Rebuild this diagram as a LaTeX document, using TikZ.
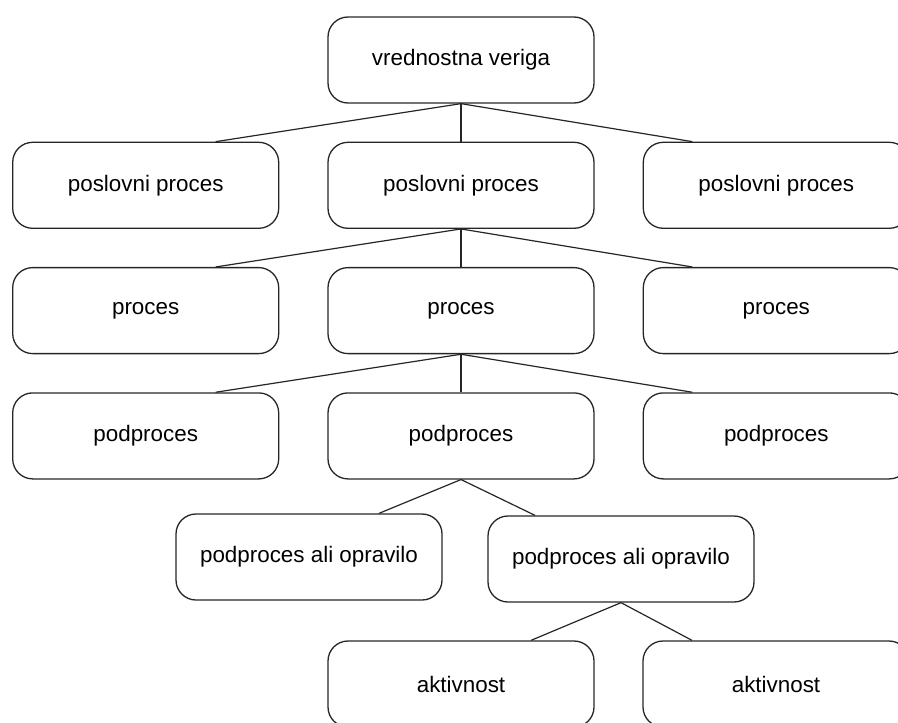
\documentclass[tikz,border=0pt]{standalone}
\usepackage{fontspec}
\setmainfont{Liberation Sans}
\usepackage{tikz}
\usetikzlibrary{positioning}

\begin{document}
\begin{tikzpicture}[
    x=0.5pt, y=-0.5pt,
    node distance=19pt and 24pt,
    box/.style={rectangle, draw=black!85, rounded corners=10pt, line width=0.65pt,
                minimum width=133pt, minimum height=43pt, inner sep=0pt, align=center,
                font=\fontsize{11.2}{13.4}\selectfont},
    link/.style={line width=0.6pt, black!85}
]
\clip (0,0) rectangle (898,722);
\node[box] at (461,60) (vv) {vrednostna veriga};
\node[box, below=of vv] (pp2) {poslovni proces};
\node[box, left=of pp2] (pp1) {poslovni proces};
\node[box, right=of pp2] (pp3) {poslovni proces};
\node[box, below=of pp2] (pr2) {proces};
\node[box, left=of pr2] (pr1) {proces};
\node[box, right=of pr2] (pr3) {proces};
\node[box, below=of pr2] (pd2) {podproces};
\node[box, left=of pd2] (pd1) {podproces};
\node[box, right=of pd2] (pd3) {podproces};
\node[box] at (309,557) (po1) {podproces ali opravilo};
\node[box] at (621,559) (po2) {podproces ali opravilo};
\node[box] at (461,684) (ak1) {aktivnost};
\node[box] at (776,684) (ak2) {aktivnost};
% tree links
\draw[link] (vv.south) -- (pp2.north);
\draw[link] (vv.south) -- ([xshift=35pt]pp1.north);
\draw[link] (vv.south) -- ([xshift=-42pt]pp3.north);
\draw[link] (pp2.south) -- (pr2.north);
\draw[link] (pp2.south) -- ([xshift=35pt]pr1.north);
\draw[link] (pp2.south) -- ([xshift=-42pt]pr3.north);
\draw[link] (pr2.south) -- (pd2.north);
\draw[link] (pr2.south) -- ([xshift=35pt]pd1.north);
\draw[link] (pr2.south) -- ([xshift=-42pt]pd3.north);
\draw[link] (pd2.south) -- ([xshift=35pt]po1.north);
\draw[link] (pd2.south) -- ([xshift=-43pt]po2.north);
\draw[link] (po2.south) -- ([xshift=35pt]ak1.north);
\draw[link] (po2.south) -- ([xshift=-42pt]ak2.north);
\end{tikzpicture}
\end{document}
